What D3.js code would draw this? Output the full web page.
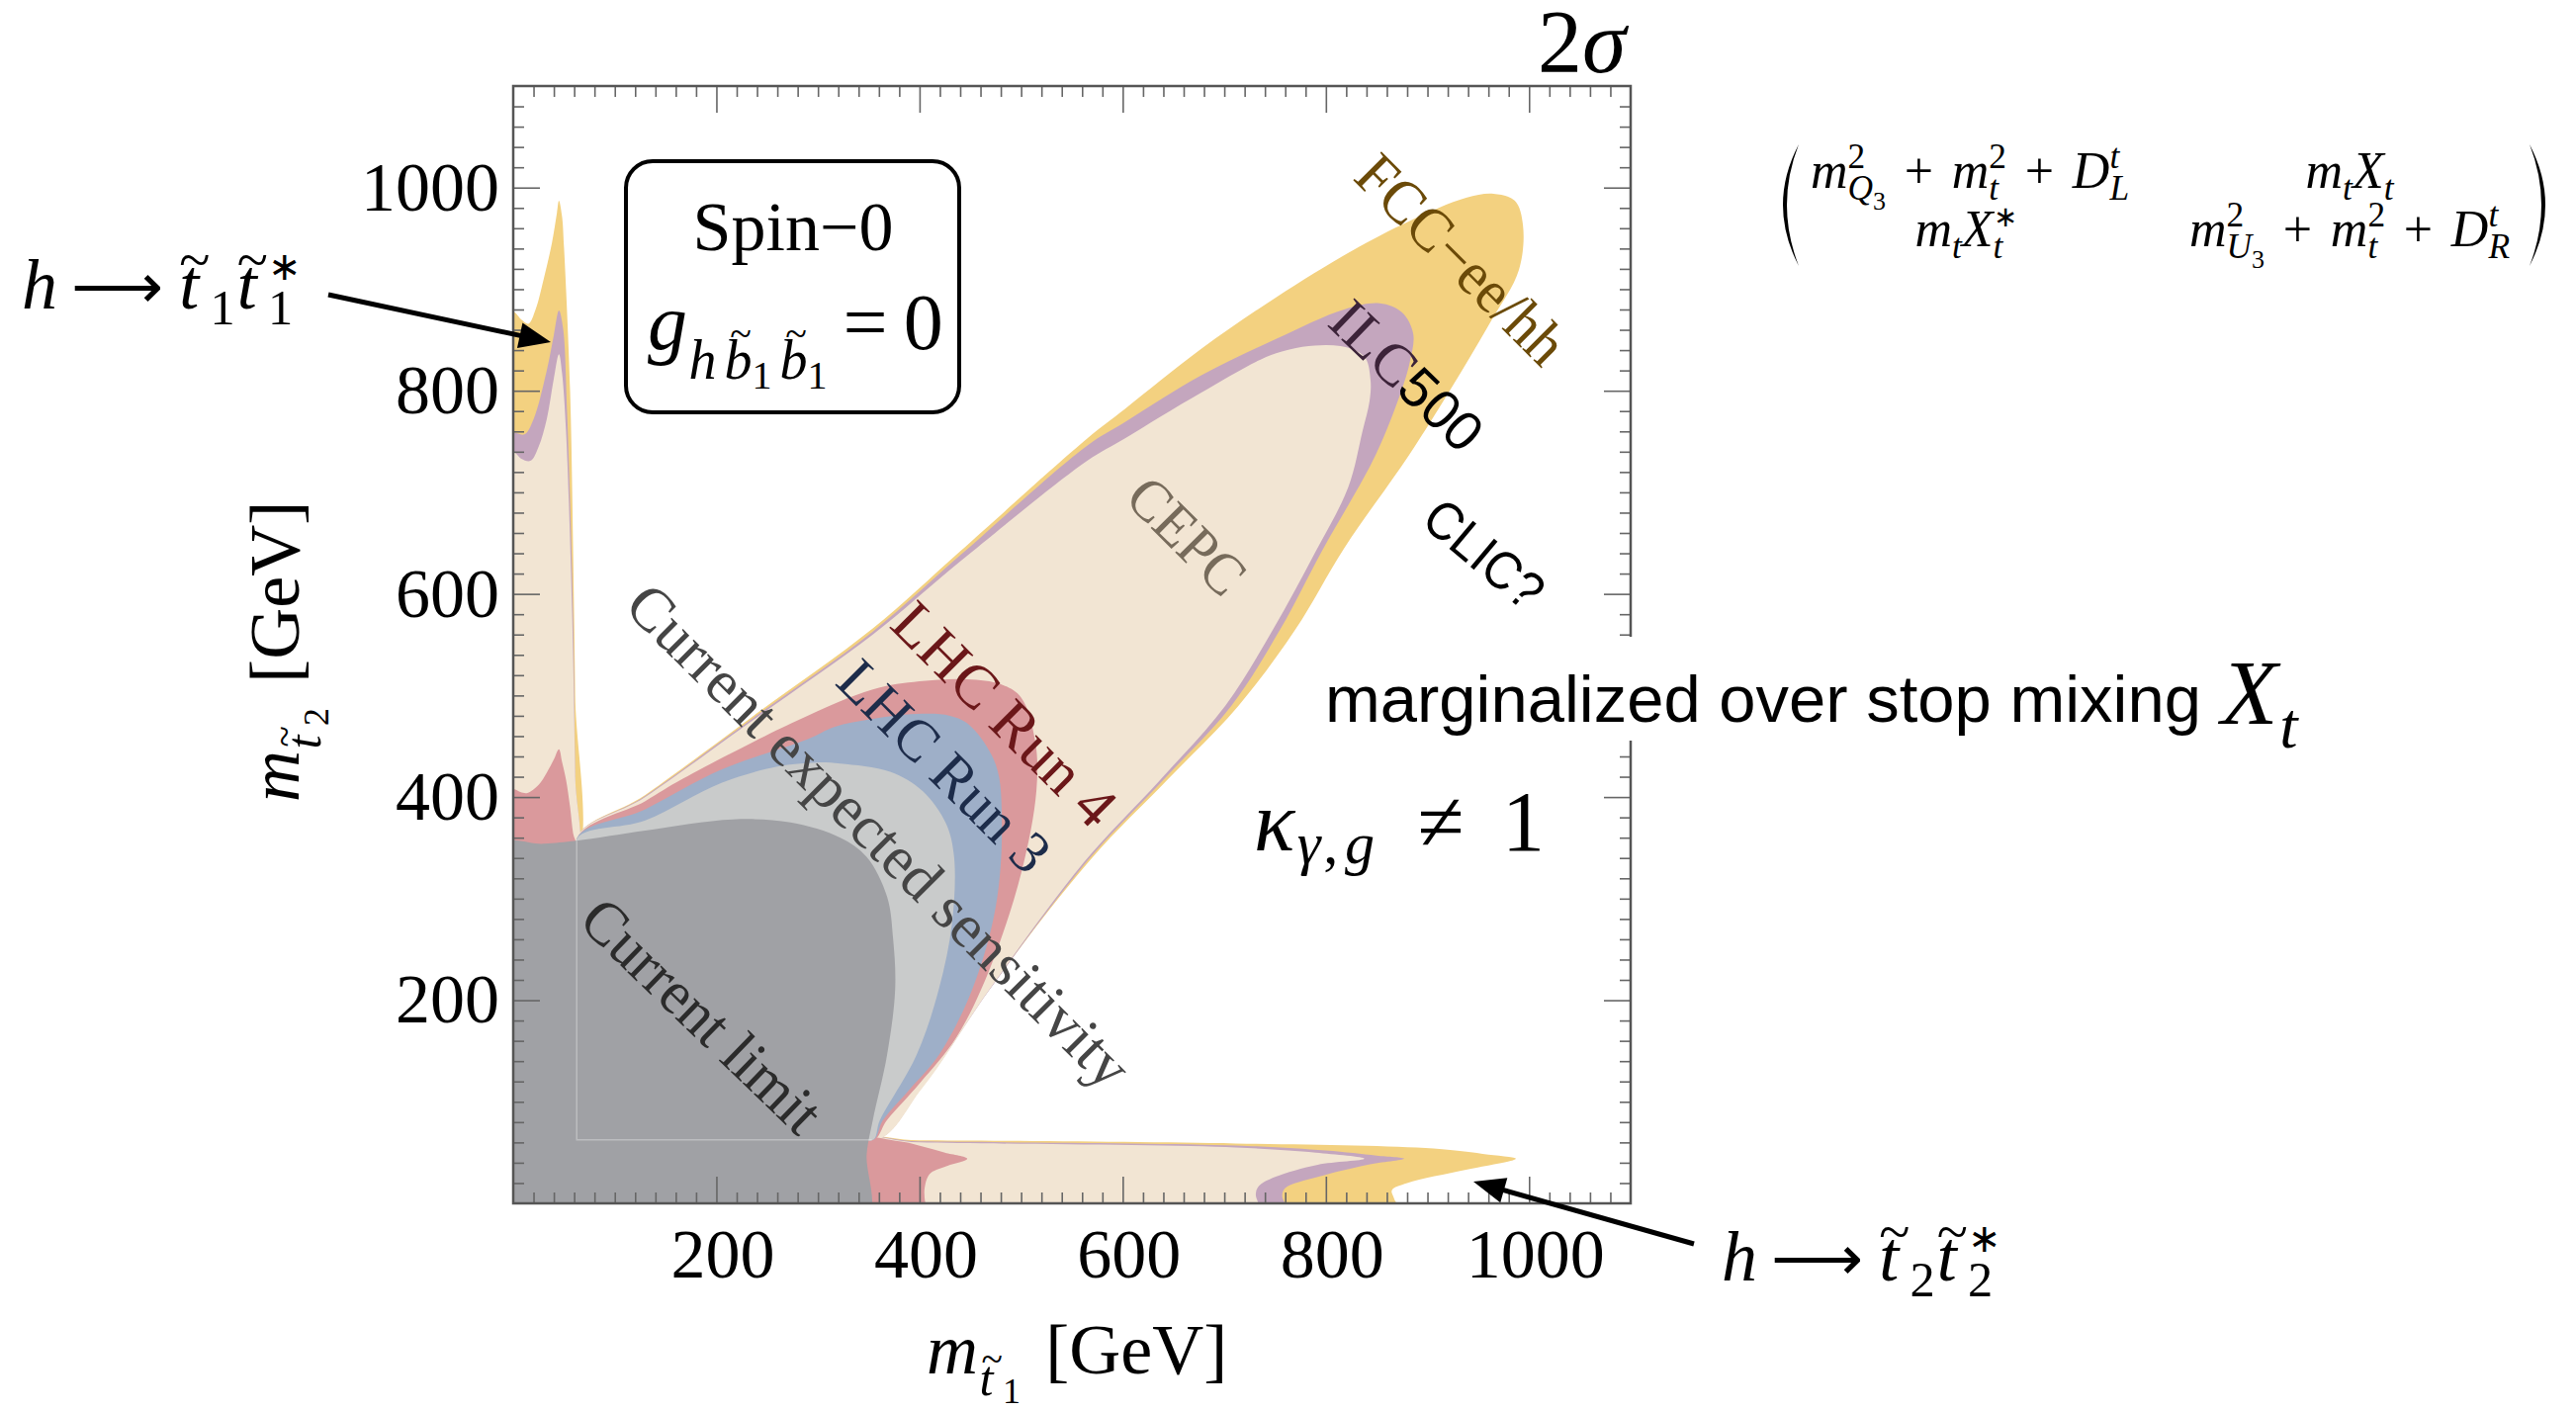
<!DOCTYPE html>
<html><head><meta charset="utf-8">
<script src="https://cdn.jsdelivr.net/npm/d3@7"></script>
<style>html,body{margin:0;padding:0;background:#fff}svg{display:block}</style>
</head><body>
<svg id="c" width="2605" height="1427"></svg>
<script>
// ---------- data (GeV) ----------
const domainMax = 1100;
const xTicksMajor = [200, 400, 600, 800, 1000];
const yTicksMajor = [200, 400, 600, 800, 1000];
const tickLabels = ["200", "400", "600", "800", "1000"];
const minorStep = 20;

// FCC-ee/hh (outermost)
const fccLobe = [[62,356],[130,402],[242,484],[354,566],[440,642],[565,753],[602,782],[677,841],[751,892],[826,938],[882,967],[938,990],[965,994],[986,987],[994,963],[990,919],[961,866],[923,802],[882,737],[818,645],[770,565],[714,490],[645,418],[568,338],[468,210],[403,116],[353,62],[200,200]];
const fccLeft = [[-20,330],[-20,878],[0,878],[8,870],[15,866],[22,880],[30,910],[38,945],[43,975],[45,987],[48,972],[50,941],[56,800],[59,640],[61,500],[62,340],[30,330]];
const fccBottom = [[330,-20],[330,62],[400,62],[711,59],[906,54],[960,48],[987,44],[938,33],[880,20],[865,13],[867,5],[877,-20]];
// ILC500
const ilcLobe = [[62,356],[130,401],[242,482],[354,563],[440,638],[565,746],[602,769],[677,815],[751,851],[818,880],[853,886],[875,877],[886,856],[883,830],[875,802],[849,737],[796,642],[755,565],[707,490],[640,417],[565,337],[468,209],[403,115],[353,62],[200,200]];
const ilcLeft = [[-20,330],[-20,759],[0,759],[11,757],[20,772],[33,820],[40,855],[45,879],[49,862],[53,780],[59,578],[61,420],[62,340],[30,330]];
const ilcBottom = [[330,-20],[330,62],[400,61],[711,57],[800,52],[850,47],[877,44],[841,38],[792,26],[760,15],[757,7],[767,-20]];
// CEPC
const cepcLobe = [[62,356],[130,400],[242,480],[354,560],[440,632],[565,731],[602,753],[677,798],[751,837],[800,845],[826,841],[839,832],[844,810],[843,790],[836,760],[822,705],[789,640],[748,565],[701,490],[636,416],[562,336],[467,208],[403,114],[353,62],[200,200]];
const cepcLeft = [[-20,330],[-20,740],[0,740],[8,733],[17,731],[25,745],[33,772],[40,812],[45,836],[48,818],[52,760],[58,580],[61,420],[62,340],[30,330]];
const cepcBottom = [[330,-20],[330,62],[400,60],[711,55],[790,50],[838,44],[792,38],[750,26],[734,17],[731,9],[737,-20]];
// LHC Run 4
const run4Lobe = [[62,356],[130,396],[167,418],[279,475],[354,506],[400,514],[447,516],[480,511],[500,498],[514,454],[515,406],[500,325],[468,228],[436,163],[400,118],[368,82],[353,62],[200,200]];
const run4Left = [[-20,330],[-20,408],[0,408],[7,405],[14,404],[25,412],[33,424],[40,437],[45,447],[48,435],[52,417],[56,390],[59,364],[62,350],[30,330]];
const run4Bottom = [[330,-20],[330,62],[380,61],[403,56],[425,50],[447,44],[425,36],[410,29],[405,15],[405,5],[407,-20]];
// LHC Run 3
const run3Lobe = [[62,357],[130,388],[205,427],[290,457],[316,469],[354,477],[403,482],[430,480],[449,471],[475,432],[481,374],[475,292],[452,211],[419,146],[390,112],[364,82],[353,62],[200,200]];
// Current expected sensitivity
const expLobe = [[62,357],[130,377],[205,414],[260,430],[298,434],[322,433],[371,425],[403,406],[426,374],[434,341],[432,276],[419,211],[397,146],[361,82],[353,62],[200,200]];
// Current limit
const limitRegion = [[-20,-20],[-20,352],[30,354],[62,357],[130,367],[216,378],[273,375],[322,360],[348,341],[368,302],[374,260],[376,211],[368,146],[354,82],[348,49],[346,-20]];

const layers = [
  {name:"FCC-ee/hh", color:"#F3D180", shapes:[fccLobe, fccLeft, fccBottom]},
  {name:"ILC500", color:"#C4A6BE", shapes:[ilcLobe, ilcLeft, ilcBottom]},
  {name:"CEPC", color:"#F2E5D3", shapes:[cepcLobe, cepcLeft, cepcBottom]},
  {name:"LHC Run 4", color:"#DA999C", shapes:[run4Lobe, run4Left, run4Bottom]},
  {name:"LHC Run 3", color:"#9EAFC8", shapes:[run3Lobe]},
  {name:"Current expected sensitivity", color:"#C9CBCB", shapes:[expLobe]},
  {name:"Current limit", color:"#A0A1A5", shapes:[limitRegion]}
];
const kinematicEdge = [[62.5,357],[62.5,62.5],[353,62.5]];

const regionLabels = [
  {text:"FCC\u2212ee/hh", cx:1478, cy:262, a:45, size:62, len:272, color:"#6B4A08", sans:false},
  {text:"CEPC", cx:1200, cy:542, a:45, size:60, len:142, color:"#776B5B", sans:false},
  {text:"LHC Run 4", cx:1016, cy:722, a:45, size:62, len:292, color:"#6B1719", sans:false},
  {text:"LHC Run 3", cx:955, cy:775, a:45, size:60, len:276, color:"#1D2C4A", sans:false},
  {text:"Current expected sensitivity", cx:889, cy:845, a:45, size:62, len:692, color:"#454545", sans:false},
  {text:"Current limit", cx:710, cy:1027, a:44, size:62, len:312, color:"#2B2B2B", sans:false},
  {text:"CLIC?", cx:1501, cy:560, a:40, size:54, len:140, color:"#000", sans:true}
];

// ---------- drawing ----------
const SERIF = "'Liberation Serif','Times New Roman',serif";
const SANS = "'Liberation Sans',Arial,sans-serif";
const svg = d3.select("#c");
const x = d3.scaleLinear().domain([0, domainMax]).range([519, 1649]);
const y = d3.scaleLinear().domain([0, domainMax]).range([1217, 87]);

svg.append("defs").append("clipPath").attr("id","plotClip").append("rect")
  .attr("x", x(0)).attr("y", y(domainMax)).attr("width", x(domainMax)-x(0)).attr("height", y(0)-y(domainMax));

const shape = d3.line().x(d=>x(d[0])).y(d=>y(d[1])).curve(d3.curveCatmullRomClosed.alpha(0.5));
const plot = svg.append("g").attr("clip-path","url(#plotClip)");
layers.forEach(L => L.shapes.forEach(s => plot.append("path").attr("d", shape(s)).attr("fill", L.color)));
plot.append("path").attr("d", d3.line().x(d=>x(d[0])).y(d=>y(d[1]))(kinematicEdge))
  .attr("fill","none").attr("stroke","rgba(255,255,255,0.3)").attr("stroke-width",1.5);

// axes / frame ticks
const minor = d3.range(minorStep, domainMax, minorStep).filter(v => v % 200 !== 0);
function tickAxis(gen, tr, vals, size, labels) {
  const a = gen.tickValues(vals).tickSize(-size).tickSizeOuter(0);
  if (!labels) a.tickFormat("");
  const g = svg.append("g").attr("transform", tr).call(a);
  g.select(".domain").remove();
  g.selectAll("line").attr("stroke","#666").attr("stroke-width",1.6);
  return g;
}
tickAxis(d3.axisBottom(x), `translate(0,${y(0)})`, minor, 11);
tickAxis(d3.axisTop(x), `translate(0,${y(domainMax)})`, minor, 11);
tickAxis(d3.axisLeft(y), `translate(${x(0)},0)`, minor, 11);
tickAxis(d3.axisRight(y), `translate(${x(domainMax)},0)`, minor, 11);
tickAxis(d3.axisTop(x), `translate(0,${y(domainMax)})`, xTicksMajor, 27);
tickAxis(d3.axisRight(y), `translate(${x(domainMax)},0)`, yTicksMajor, 27);
const gxb = tickAxis(d3.axisBottom(x).tickPadding(25).tickFormat((d,i)=>tickLabels[i]), `translate(0,${y(0)})`, xTicksMajor, 27, true);
gxb.attr("font-size",70).attr("font-family",SERIF);
gxb.selectAll("text").attr("fill","#000").attr("dx",6);
const gyl = tickAxis(d3.axisLeft(y).tickPadding(14).tickFormat((d,i)=>tickLabels[i]), `translate(${x(0)},0)`, yTicksMajor, 27, true);
gyl.attr("font-size",70).attr("font-family",SERIF);
gyl.selectAll("text").attr("fill","#000");

svg.append("rect").attr("x", x(0)).attr("y", y(domainMax)).attr("width", x(domainMax)-x(0)).attr("height", y(0)-y(domainMax))
  .attr("fill","none").attr("stroke","#555").attr("stroke-width",2.5);

// ---------- math text helper ----------
function mathText(g, x0, y0, toks, size, fill) {
  let xx = x0, prevStart = x0, prevEnd = x0;
  toks.forEach(tk => {
    const fs = size * (tk.sz || 1);
    let sx = (tk.ov ? prevStart : xx) + (tk.gap || 0) * size;
    const el = g.append("text").attr("x", sx).attr("y", y0 + (tk.dy || 0) * size)
      .attr("font-family", tk.sans ? SANS : SERIF).attr("font-style", tk.it ? "italic" : "normal")
      .attr("font-size", fs).attr("fill", fill).text(tk.t);
    const end = sx + el.node().getComputedTextLength() + (tk.pad || 0) * size;
    if (tk.ov) { prevEnd = Math.max(prevEnd, end); xx = prevEnd; }
    else { prevStart = sx; prevEnd = end; xx = end; }
  });
  return xx;
}
function mathCentered(g, cx, y0, toks, size, fill) {
  const gg = g.append("g");
  const w = mathText(gg, 0, y0, toks, size, fill);
  gg.attr("transform", `translate(${cx - w/2},0)`);
}
const sup = (t, o={}) => Object.assign({t, sz:0.68, dy:-0.38}, o);
const sub = (t, o={}) => Object.assign({t, sz:0.68, dy:0.24}, o);
const T = svg.append("g");

// region labels
regionLabels.forEach(l => {
  T.append("text").attr("transform", `translate(${l.cx},${l.cy}) rotate(${l.a})`)
    .attr("text-anchor","middle").attr("dominant-baseline","central")
    .attr("font-family", l.sans ? SANS : SERIF).attr("font-size", l.size).attr("fill", l.color)
    .attr("textLength", l.len).attr("lengthAdjust","spacingAndGlyphs").text(l.text);
});
const ilc = T.append("text").attr("transform","translate(1423,380) rotate(44)")
  .attr("text-anchor","middle").attr("dominant-baseline","central");
ilc.append("tspan").attr("font-family",SERIF).attr("font-size",60).attr("fill","#3C2339").text("ILC");
ilc.append("tspan").attr("font-family",SANS).attr("font-size",56).attr("fill","#000").text("500");

// 2 sigma
mathText(T, 1555, 73, [{t:"2"},{t:"\u03C3", it:1}], 90, "#000");

// Spin-0 box
T.append("rect").attr("x",633).attr("y",163).attr("width",337).attr("height",254).attr("rx",27)
  .attr("fill","#fff").attr("stroke","#000").attr("stroke-width",4);
T.append("text").attr("x",802).attr("y",253).attr("text-anchor","middle").attr("font-family",SERIF)
  .attr("font-size",70).attr("fill","#000").text("Spin\u22120");
mathText(T, 655, 353, [
  {t:"g", it:1},
  {t:"h", it:1, sz:0.7, dy:0.375, gap:0.02},
  {t:"b", it:1, sz:0.7, dy:0.375, gap:0.1}, {t:"~", ov:1, sz:0.5, dy:-0.02, gap:0.07}, {t:"1", sz:0.5, dy:0.5},
  {t:"b", it:1, sz:0.7, dy:0.375, gap:0.1}, {t:"~", ov:1, sz:0.5, dy:-0.02, gap:0.07}, {t:"1", sz:0.5, dy:0.5},
  {t:"=", gap:0.2, pad:0.2}, {t:"0"}
], 80, "#000");

// matrix
const mS = 52;
const plusTok = () => ({t:"+", gap:0.36, pad:0.36});
mathCentered(T, 1992, 190, [{t:"m",it:1}, sup("2"), sub("Q",{it:1,ov:1}), {t:"3",sz:0.5,dy:0.42},
  plusTok(), {t:"m",it:1}, sup("2"), sub("t",{it:1,ov:1}),
  plusTok(), {t:"D",it:1}, sup("t",{it:1}), sub("L",{it:1,ov:1})], mS, "#000");
mathCentered(T, 2376, 190, [{t:"m",it:1}, sub("t",{it:1}), {t:"X",it:1}, sub("t",{it:1})], mS, "#000");
mathCentered(T, 1988, 249, [{t:"m",it:1}, sub("t",{it:1}), {t:"X",it:1}, sup("\u2217",{sz:0.55,dy:-0.38}), sub("t",{it:1,ov:1})], mS, "#000");
mathCentered(T, 2376, 249, [{t:"m",it:1}, sup("2"), sub("U",{it:1,ov:1}), {t:"3",sz:0.5,dy:0.42},
  plusTok(), {t:"m",it:1}, sup("2"), sub("t",{it:1,ov:1}),
  plusTok(), {t:"D",it:1}, sup("t",{it:1}), sub("R",{it:1,ov:1})], mS, "#000");
T.append("path").attr("d","M1819,146 Q1787,207 1819,269 Q1795,207 1819,146 Z").attr("fill","#000");
T.append("path").attr("d","M2558,146 Q2590,207 2558,269 Q2582,207 2558,146 Z").attr("fill","#000");

// marginalized text with white backing
T.append("rect").attr("x",1330).attr("y",644).attr("width",1040).attr("height",105).attr("fill","#fff");
T.append("text").attr("x",1340).attr("y",730).attr("font-family",SANS).attr("font-size",66).attr("fill","#000")
  .attr("textLength",886).attr("lengthAdjust","spacingAndGlyphs").text("marginalized over stop mixing");
mathText(T, 2246, 732, [{t:"X",it:1}, {t:"t",it:1,sz:0.7,dy:0.25,gap:0.02}], 94, "#000");

// kappa
mathText(T, 1268, 860, [{t:"\u03BA",it:1}, {t:"\u03B3",it:1,sz:0.7,dy:0.15,gap:0.03}, {t:",",sz:0.7,dy:0.15,gap:0.03},
  {t:"g",it:1,sz:0.7,dy:0.15,gap:0.08},
  {t:"\u2260",gap:0.5,pad:0.45}, {t:"1"}], 86, "#000");

// decay labels
function decay(x0, y0, idx) {
  mathText(T, x0, y0, [{t:"h",it:1}, {t:"\u27F6",gap:0.2,pad:0.2,sz:0.9},
    {t:"t",it:1,gap:0.02}, {t:"~",ov:1,sz:0.8,dy:-0.42,gap:0.0}, {t:idx,sz:0.7,dy:0.22},
    {t:"t",it:1,gap:0.03}, {t:"~",ov:1,sz:0.8,dy:-0.42,gap:0.0}, {t:"\u2217",sz:0.55,dy:-0.4}, {t:idx,ov:1,sz:0.7,dy:0.22}], 72, "#000");
}
decay(22, 312, "1");
decay(1741, 1295, "2");

function arrow(x1, y1, x2, y2) {
  const ang = Math.atan2(y2-y1, x2-x1), hl = 32, hw = 13;
  const bx = x2 - hl*Math.cos(ang), by = y2 - hl*Math.sin(ang);
  T.append("line").attr("x1",x1).attr("y1",y1).attr("x2",bx+4*Math.cos(ang)).attr("y2",by+4*Math.sin(ang))
    .attr("stroke","#000").attr("stroke-width",5);
  T.append("path").attr("d", `M${x2},${y2} L${bx - hw*Math.sin(ang)},${by + hw*Math.cos(ang)} L${bx + hw*Math.sin(ang)},${by - hw*Math.cos(ang)} Z`).attr("fill","#000");
}
arrow(332, 298, 557, 346);
arrow(1713, 1258, 1490, 1195);

// axis titles
mathText(T, 937, 1389, [{t:"m",it:1}, {t:"t",it:1,sz:0.7,dy:0.3,gap:0.02}, {t:"~",ov:1,sz:0.55,dy:-0.02,gap:0.03}, {t:"1",sz:0.5,dy:0.42},
  {t:"[GeV]",gap:0.35}], 72, "#000");
const yt = T.append("g").attr("transform","translate(302,811) rotate(-90)");
mathText(yt, 0, 0, [{t:"m",it:1}, {t:"t",it:1,sz:0.7,dy:0.3,gap:0.02}, {t:"~",ov:1,sz:0.55,dy:-0.02,gap:0.03}, {t:"2",sz:0.5,dy:0.42},
  {t:"[GeV]",gap:0.35}], 72, "#000");
</script>
</body></html>
